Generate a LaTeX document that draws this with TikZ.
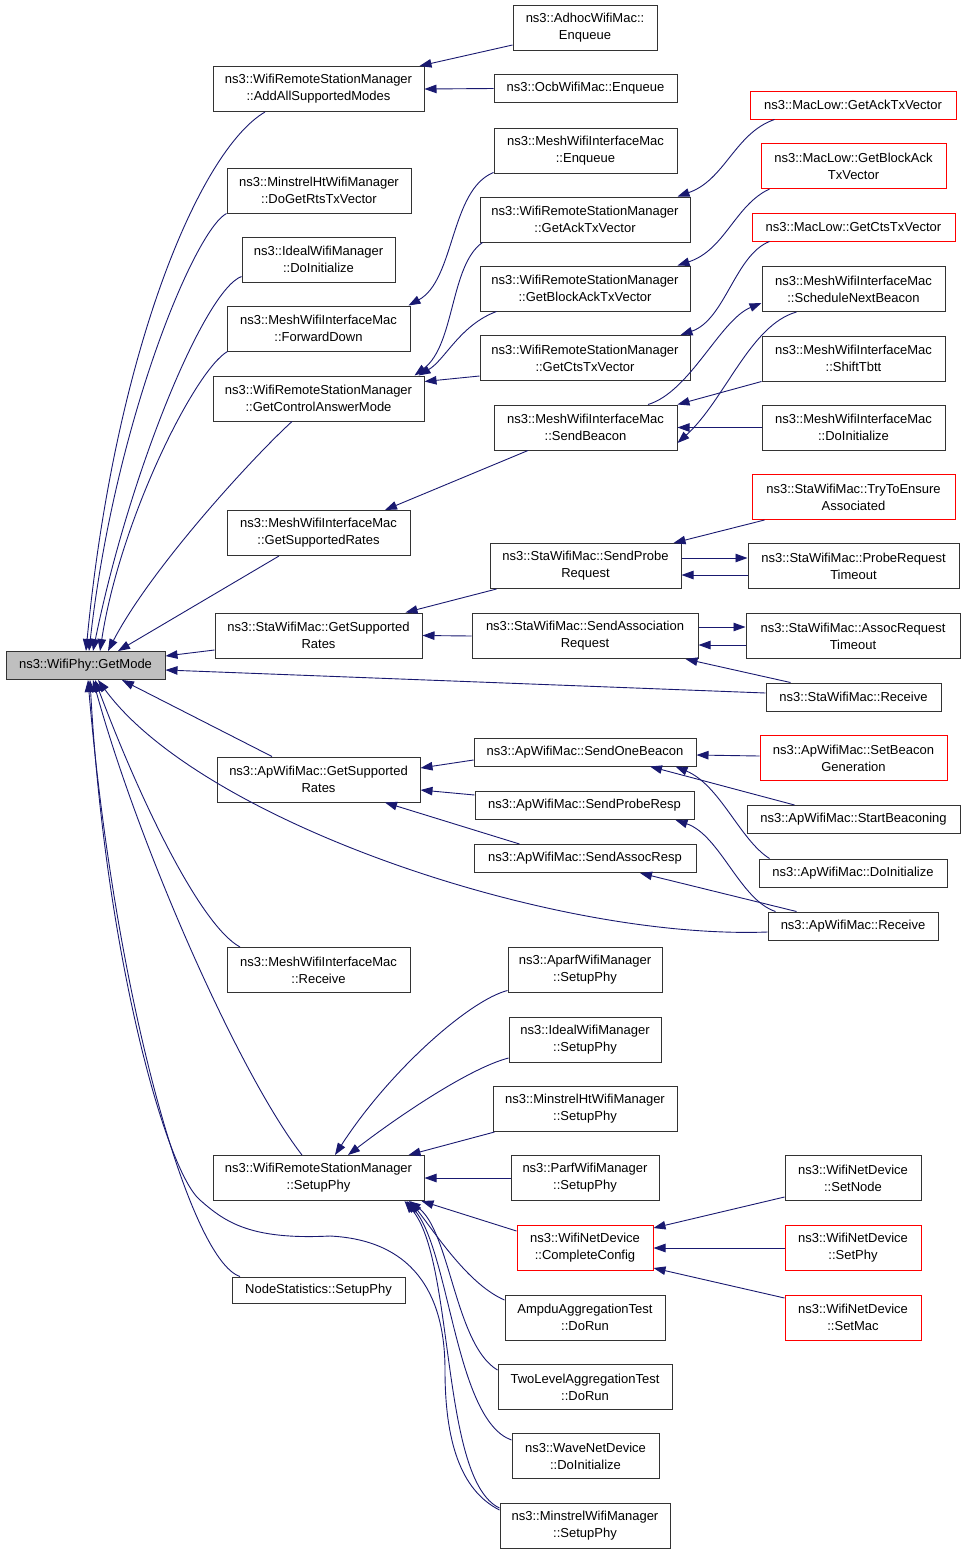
\documentclass[tikz,border=0pt]{standalone}
\usepackage{fontspec}
\setmainfont{Liberation Sans}
\usetikzlibrary{arrows.meta}
\definecolor{edgeblue}{RGB}{25,25,112}
\definecolor{boxgray}{RGB}{191,191,191}
\tikzstyle{fn} = [draw=black!80,line width=1pt,fill=white,align=center,inner sep=0pt,minimum height=45pt,font=\fontsize{13}{17}\selectfont]
\tikzstyle{fnone} = [fn,minimum height=28pt]
\tikzstyle{fnred} = [draw=red]
\tikzstyle{callarrow} = [draw=edgeblue,line width=0.9pt,-{Triangle[length=12pt,width=8.5pt]}]

\begin{document}
\begin{tikzpicture}[x=1pt,y=-1pt]
	\useasboundingbox (0,0) rectangle (965,1553);

	% called function
	\node[fnone,fill=boxgray,minimum width=159pt] (getmode) at (85.5,665.5) {ns3::WifiPhy::GetMode};

	% first column
	\node[fn,minimum width=211pt] (addall) at (318.5,89) {ns3::WifiRemoteStationManager\\::AddAllSupportedModes};
	\node[fn,minimum width=184pt] (rtsvec) at (319,190.5) {ns3::MinstrelHtWifiManager\\::DoGetRtsTxVector};
	\node[fn,minimum width=153pt] (idealinit) at (318.5,259.5) {ns3::IdealWifiManager\\::DoInitialize};
	\node[fn,minimum width=183pt] (fwddown) at (318.5,328.5) {ns3::MeshWifiInterfaceMac\\::ForwardDown};
	\node[fn,minimum width=211pt] (ctrlmode) at (318.5,398.5) {ns3::WifiRemoteStationManager\\::GetControlAnswerMode};
	\node[fn,minimum width=183pt] (meshrates) at (318.5,533) {ns3::MeshWifiInterfaceMac\\::GetSupportedRates};
	\node[fn,minimum width=207pt] (starates) at (318.5,635.5) {ns3::StaWifiMac::GetSupported\\Rates};
	\node[fn,minimum width=203pt] (aprates) at (318.5,779.5) {ns3::ApWifiMac::GetSupported\\Rates};
	\node[fn,minimum width=183pt] (meshrecv) at (318.5,970) {ns3::MeshWifiInterfaceMac\\::Receive};
	\node[fn,minimum width=211pt] (setupphy) at (318.5,1178) {ns3::WifiRemoteStationManager\\::SetupPhy};
	\node[fn,minimum height=26pt,minimum width=173pt] (nodestats) at (318.5,1290) {NodeStatistics::SetupPhy};

	% second column
	\node[fn,minimum width=144pt] (adhocenq) at (585,27.5) {ns3::AdhocWifiMac::\\Enqueue};
	\node[fnone,minimum width=183pt] (ocbenq) at (585.5,88.5) {ns3::OcbWifiMac::Enqueue};
	\node[fn,minimum width=183pt] (meshenq) at (585.5,150.5) {ns3::MeshWifiInterfaceMac\\::Enqueue};
	\node[fn,minimum width=210pt] (acktx) at (585,219.5) {ns3::WifiRemoteStationManager\\::GetAckTxVector};
	\node[fn,minimum width=210pt] (baktx) at (585,288.5) {ns3::WifiRemoteStationManager\\::GetBlockAckTxVector};
	\node[fn,minimum width=210pt] (ctstx) at (585,358) {ns3::WifiRemoteStationManager\\::GetCtsTxVector};
	\node[fn,minimum width=183pt] (sendbeacon) at (585.5,427.5) {ns3::MeshWifiInterfaceMac\\::SendBeacon};
	\node[fn,minimum width=191pt] (sendprobe) at (585.5,566) {ns3::StaWifiMac::SendProbe\\Request};
	\node[fn,minimum width=226pt] (sendassoc) at (585,636) {ns3::StaWifiMac::SendAssociation\\Request};
	\node[fnone,minimum width=222pt] (sendonebeacon) at (585,752) {ns3::ApWifiMac::SendOneBeacon};
	\node[fnone,minimum width=219pt] (sendproberesp) at (584.5,805.5) {ns3::ApWifiMac::SendProbeResp};
	\node[fnone,minimum width=222pt] (sendassocresp) at (585,858.5) {ns3::ApWifiMac::SendAssocResp};
	\node[fn,minimum width=154pt] (aparfsetup) at (585,969.5) {ns3::AparfWifiManager\\::SetupPhy};
	\node[fn,minimum width=152pt] (idealsetup) at (585,1039.5) {ns3::IdealWifiManager\\::SetupPhy};
	\node[fn,minimum width=184pt] (minhtsetup) at (585,1109) {ns3::MinstrelHtWifiManager\\::SetupPhy};
	\node[fn,minimum width=148pt] (parfsetup) at (585,1178) {ns3::ParfWifiManager\\::SetupPhy};
	\node[fn,fnred,minimum width=136pt] (completecfg) at (585,1248) {ns3::WifiNetDevice\\::CompleteConfig};
	\node[fn,minimum width=160pt] (ampdurun) at (585,1317.5) {AmpduAggregationTest\\::DoRun};
	\node[fn,minimum width=174pt] (twolevelrun) at (585,1387) {TwoLevelAggregationTest\\::DoRun};
	\node[fn,minimum width=147pt] (waveinit) at (585.5,1456) {ns3::WaveNetDevice\\::DoInitialize};
	\node[fn,minimum width=170pt] (minstrelsetup) at (585,1526) {ns3::MinstrelWifiManager\\::SetupPhy};

	% third column
	\node[fnone,fnred,minimum width=206pt] (lowack) at (853,105) {ns3::MacLow::GetAckTxVector};
	\node[fn,fnred,minimum width=185pt] (lowback) at (853.5,166) {ns3::MacLow::GetBlockAck\\TxVector};
	\node[fnone,fnred,minimum width=203pt] (lowcts) at (853.5,227) {ns3::MacLow::GetCtsTxVector};
	\node[fn,minimum width=183pt] (schedbeacon) at (853.5,289) {ns3::MeshWifiInterfaceMac\\::ScheduleNextBeacon};
	\node[fn,minimum width=183pt] (shifttbtt) at (853.5,358.5) {ns3::MeshWifiInterfaceMac\\::ShiftTbtt};
	\node[fn,minimum width=183pt] (meshinit) at (853.5,427.5) {ns3::MeshWifiInterfaceMac\\::DoInitialize};
	\node[fn,fnred,minimum width=203pt] (tryassoc) at (853.5,497) {ns3::StaWifiMac::TryToEnsure\\Associated};
	\node[fn,minimum width=211pt] (probetimeout) at (853.5,566) {ns3::StaWifiMac::ProbeRequest\\Timeout};
	\node[fn,minimum width=214pt] (assoctimeout) at (853,636) {ns3::StaWifiMac::AssocRequest\\Timeout};
	\node[fnone,minimum width=175pt] (starecv) at (853.5,697) {ns3::StaWifiMac::Receive};
	\node[fn,fnred,minimum width=187pt] (setbeacongen) at (853.5,758) {ns3::ApWifiMac::SetBeacon\\Generation};
	\node[fnone,minimum width=213pt] (startbeacon) at (853.5,819.5) {ns3::ApWifiMac::StartBeaconing};
	\node[fnone,minimum width=188pt] (apinit) at (853,873) {ns3::ApWifiMac::DoInitialize};
	\node[fnone,minimum width=170pt] (aprecv) at (853,926) {ns3::ApWifiMac::Receive};
	\node[fn,minimum width=136pt] (setnode) at (853,1178) {ns3::WifiNetDevice\\::SetNode};
	\node[fn,fnred,minimum width=136pt] (setphy) at (853,1248) {ns3::WifiNetDevice\\::SetPhy};
	\node[fn,fnred,minimum width=136pt] (setmac) at (853,1317.5) {ns3::WifiNetDevice\\::SetMac};

	% callers of GetMode
	\draw [callarrow] ([xshift=-53.5pt]addall.south) .. controls (200,150) and (115,350) .. ([xshift=0.5pt]getmode.north);
	\draw [callarrow] ([yshift=0pt]rtsvec.south west) .. controls (195,230) and (115,420) .. ([xshift=3.5pt]getmode.north);
	\draw [callarrow] ([yshift=6pt]idealinit.south west) .. controls (205,290) and (130,470) .. ([xshift=7.5pt]getmode.north);
	\draw [callarrow] ([xshift=1pt]fwddown.south west) .. controls (195,370) and (120,520) .. ([xshift=14.5pt]getmode.north);
	\draw [callarrow] ([xshift=-26.5pt]ctrlmode.south) .. controls (250,460) and (150,570) .. ([xshift=22.5pt]getmode.north);
	\draw [callarrow] ([xshift=-39.5pt]meshrates.south) -- ([xshift=32.5pt]getmode.north);
	\draw [callarrow] ([yshift=-14.5pt]starates.west) -- ([yshift=9.5pt]getmode.east);
	\draw [callarrow] ([yshift=4pt]starecv.west) -- ([yshift=-4.5pt]getmode.east);
	\draw [callarrow] ([xshift=-46.5pt]aprates.north) -- ([xshift=36.5pt]getmode.south);
	\draw [callarrow] ([yshift=-6pt]aprecv.west) .. controls (550,940) and (200,820) .. ([xshift=12.5pt]getmode.south);
	\draw [callarrow] ([xshift=-78.5pt]meshrecv.north) .. controls (200,925) and (140,800) .. ([xshift=9.5pt]getmode.south);
	\draw [callarrow] ([xshift=-16.5pt]setupphy.north) .. controls (240,1075) and (140,850) .. ([xshift=7.5pt]getmode.south);
	\draw [callarrow] ([xshift=-78.5pt]nodestats.north) .. controls (190,1260) and (115,1000) .. ([xshift=2.5pt]getmode.south);
	\draw [callarrow] ([yshift=16pt]minstrelsetup.west) .. controls (460,1490) and (445,1440) .. (445,1370)
		.. controls (445,1290) and (410,1240) .. (330,1236)
		.. controls (250,1240) and (225,1222) .. (200,1200)
		.. controls (165,1170) and (105,950) .. ([xshift=4.5pt]getmode.south);

	% upper part
	\draw [callarrow] ([yshift=-17.5pt]adhocenq.west) -- ([xshift=-5pt]addall.north east);
	\draw [callarrow] (ocbenq.west) -- (addall.east);
	\draw [callarrow] ([yshift=1pt]meshenq.south west) .. controls (450,190) and (455,280) .. ([xshift=-2pt]fwddown.north east);
	\draw [callarrow] ([xshift=3pt]acktx.south west) .. controls (450,265) and (455,345) .. ([xshift=-10pt]ctrlmode.north east);
	\draw [callarrow] ([xshift=17pt]baktx.south west) .. controls (460,325) and (445,360) .. ([xshift=-6pt]ctrlmode.north east);
	\draw [callarrow] ([yshift=-18pt]ctstx.west) -- ([yshift=17pt]ctrlmode.east);
	\draw [callarrow] ([xshift=25pt]lowack.south west) .. controls (735,133) and (725,180) .. ([xshift=-13pt]acktx.north east);
	\draw [callarrow] ([xshift=9pt]lowback.south west) .. controls (735,205) and (725,250) .. ([xshift=-13pt]baktx.north east);
	\draw [callarrow] ([xshift=18pt]lowcts.south west) .. controls (735,255) and (725,320) .. ([xshift=-10pt]ctstx.north east);
	\draw [callarrow] ([xshift=62.5pt]sendbeacon.north) .. controls (690,392) and (720,320) .. ([yshift=-14pt]schedbeacon.west);
	\draw [callarrow] ([xshift=35pt]schedbeacon.south west) .. controls (750,325) and (725,400) .. ([yshift=-15.5pt]sendbeacon.east);
	\draw [callarrow] (shifttbtt.south west) -- (sendbeacon.north east);
	\draw [callarrow] (meshinit.west) -- (sendbeacon.east);
	\draw [callarrow] ([xshift=-57.5pt]sendbeacon.south) -- ([xshift=66.5pt]meshrates.north);

	% station side
	\draw [callarrow] ([xshift=13pt]tryassoc.south west) -- ([xshift=-8pt]sendprobe.north east);
	\draw [callarrow] ([yshift=8pt]sendprobe.east) -- ([yshift=8pt]probetimeout.west);
	\draw [callarrow] ([yshift=-9pt]probetimeout.west) -- ([yshift=-9pt]sendprobe.east);
	\draw [callarrow] ([xshift=7pt]sendprobe.south west) -- ([xshift=-17pt]starates.north east);
	\draw [callarrow] (sendassoc.west) -- (starates.east);
	\draw [callarrow] ([yshift=9pt]sendassoc.east) -- ([yshift=9pt]assoctimeout.west);
	\draw [callarrow] ([yshift=-9pt]assoctimeout.west) -- ([yshift=-9pt]sendassoc.east);
	\draw [callarrow] ([xshift=25pt]starecv.north west) -- ([xshift=-13pt]sendassoc.south east);

	% access point side
	\draw [callarrow] ([yshift=2pt]setbeacongen.west) -- ([yshift=-3pt]sendonebeacon.east);
	\draw [callarrow] ([xshift=48pt]startbeacon.north west) -- ([xshift=65pt]sendonebeacon.south);
	\draw [callarrow] ([xshift=11pt]apinit.north west) .. controls (740,840) and (720,785) .. ([xshift=-21pt]sendonebeacon.south east);
	\draw [callarrow] ([yshift=-8pt]sendonebeacon.west) -- ([yshift=11.5pt]aprates.east);
	\draw [callarrow] ([yshift=10.5pt]sendproberesp.west) -- ([yshift=-10.5pt]aprates.east);
	\draw [callarrow] ([xshift=46pt]sendassocresp.north west) -- ([xshift=66.5pt]aprates.south);
	\draw [callarrow] ([xshift=29pt]aprecv.north west) -- ([xshift=55pt]sendassocresp.south);
	\draw [callarrow] ([xshift=8pt]aprecv.north west) .. controls (740,900) and (720,835) .. ([xshift=-19pt]sendproberesp.south east);

	% callers of SetupPhy
	\draw [callarrow] ([yshift=-21pt]aparfsetup.west) .. controls (470,1000) and (390,1070) .. ([xshift=16.5pt]setupphy.north);
	\draw [callarrow] ([yshift=-18.5pt]idealsetup.west) .. controls (470,1068) and (400,1115) .. ([xshift=29.5pt]setupphy.north);
	\draw [callarrow] ([xshift=2pt]minhtsetup.south west) -- ([xshift=-16pt]setupphy.north east);
	\draw [callarrow] (parfsetup.west) -- (setupphy.east);
	\draw [callarrow] ([yshift=17pt]completecfg.west) -- ([xshift=-3pt]setupphy.south east);
	\draw [callarrow] ([yshift=17.5pt]ampdurun.west) .. controls (470,1285) and (440,1240) .. ([xshift=-14pt]setupphy.south east);
	\draw [callarrow] ([yshift=17pt]twolevelrun.west) .. controls (455,1345) and (450,1230) .. ([xshift=-16pt]setupphy.south east);
	\draw [callarrow] ([yshift=16pt]waveinit.west) .. controls (455,1420) and (450,1250) .. ([xshift=-18pt]setupphy.south east);
	\draw [callarrow] ([yshift=18pt]minstrelsetup.west) .. controls (440,1480) and (455,1260) .. ([xshift=-20pt]setupphy.south east);
	\draw [callarrow] ([yshift=-19pt]setnode.west) -- ([yshift=20pt]completecfg.east);
	\draw [callarrow] (setphy.west) -- (completecfg.east);
	\draw [callarrow] ([yshift=19.5pt]setmac.west) -- ([yshift=-20pt]completecfg.east);
\end{tikzpicture}
\end{document}
